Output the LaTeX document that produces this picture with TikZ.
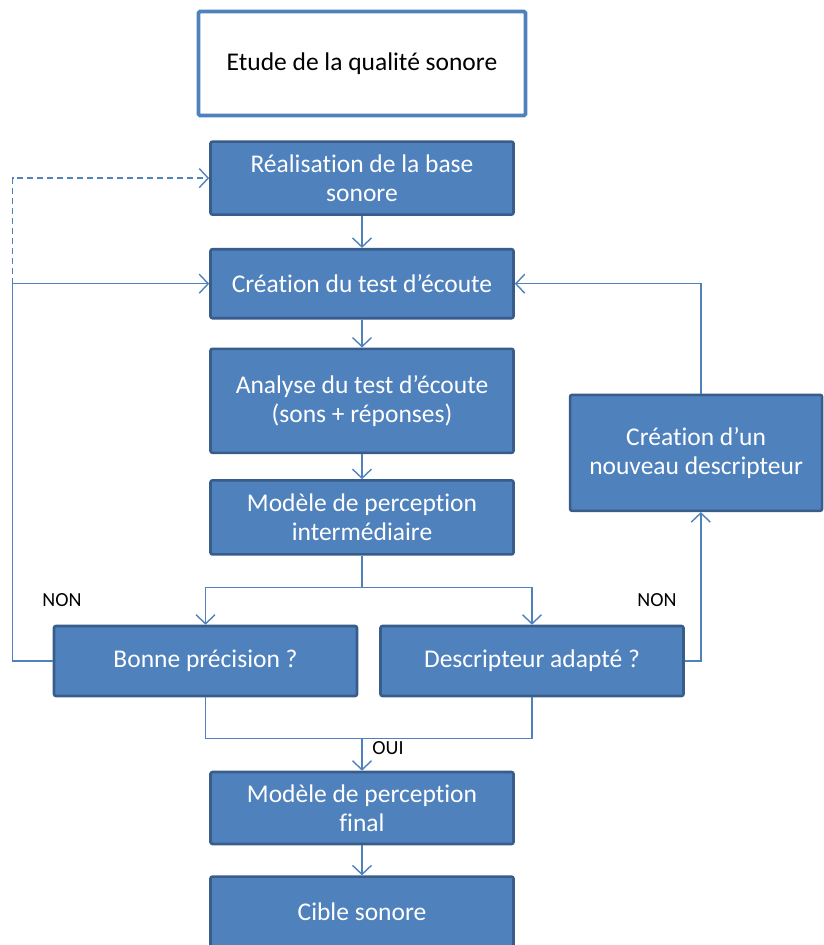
\documentclass[tikz,border=0pt]{standalone}
\usepackage{fontspec}
\setmainfont{Carlito}[Ligatures=NoCommon]
\usepackage{tikz}
\usetikzlibrary{positioning,arrows.meta,calc}
\usepackage{xcolor}
\definecolor{boxblue}{HTML}{4F81BD}
\definecolor{boxrand}{HTML}{385D8A}
\definecolor{lijnblauw}{HTML}{4F81BD}

\tikzset{
  blok/.style={draw=boxrand,line width=2.6pt,fill=boxblue,text=white,rounded corners=2pt,
    minimum width=303pt,align=center,inner sep=0pt,font=\fontsize{25.5}{29}\selectfont},
  titel/.style={draw=boxblue,line width=3.6pt,fill=white,text=black,rounded corners=1.5pt,
    minimum width=327pt,minimum height=104pt,align=center,font=\fontsize{25.5}{29}\selectfont},
  lijn/.style={draw=lijnblauw,line width=1.4pt},
  pijl/.style={lijn,-{Straight Barb[length=9pt,width=19pt,line width=1.4pt]}},
  etiket/.style={font=\fontsize{20}{24}\selectfont,text=black,inner sep=0pt}
}

\begin{document}
\begin{tikzpicture}[x=1pt,y=1pt]
\useasboundingbox (0,0) rectangle (824,-945);
\node (etude) [titel] at (362,-63.5) {Etude de la qualité sonore};
\node (real) [blok,minimum height=73pt,below=23pt of etude] {Réalisation de la base\\sonore};
\node (crea) [blok,minimum height=69pt,below=32pt of real] {Création du test d’écoute};
\node (ana) [blok,minimum height=104pt,below=28pt of crea] {Analyse du test d’écoute\\(sons + réponses)};
\node (modint) [blok,minimum height=74pt,below=25pt of ana] {Modèle de perception\\intermédiaire};
\node (bonne) [blok,minimum height=70pt,below=69pt of modint,xshift=-156.5pt] {Bonne précision ?};
\node (desc) [blok,minimum height=70pt,below=69pt of modint,xshift=170pt] {Descripteur adapté ?};
\node (nouv) [blok,minimum width=252pt,minimum height=116pt,right=54pt of ana,yshift=-52pt] {Création d’un\\nouveau descripteur};
\node (final) [blok,minimum height=72pt,below=215pt of modint] {Modèle de perception\\final};
\node (cible) [blok,minimum height=70pt,below=30pt of final] {Cible sonore};

% hoofdlijn
\draw[pijl] (real) -- (crea);
\draw[pijl] (crea) -- (ana);
\draw[pijl] (ana) -- (modint);
\draw[lijn] (modint.south) -- ++(0,-32) coordinate (split);
\draw[pijl] (split) -| (bonne);
\draw[pijl] (split) -| (desc);

% terug naar links
\draw[pijl] (bonne.west) -- ++(-40,0) coordinate (links) |- (crea);
\draw[pijl,dash pattern=on 6pt off 4pt] (links |- crea) |- (real);
\node (nonlinks) [etiket] at (62,-600) {NON};

% terug naar rechts
\draw[pijl] (desc.east) -- ++(16,0) coordinate (rechts) -- (rechts |- nouv.south);
\draw[pijl] (rechts |- nouv.north) |- (crea);
\node (nonrechts) [etiket] at (657,-600) {NON};

% samenkomst
\draw[lijn] (bonne.south) -- ++(0,-41) coordinate (onder) -| (desc.south);
\draw[pijl] (onder -| final) -- (final);
\node (oui) [etiket] at (388,-748) {OUI};
\draw[pijl] (final) -- (cible);
\end{tikzpicture}
\end{document}
